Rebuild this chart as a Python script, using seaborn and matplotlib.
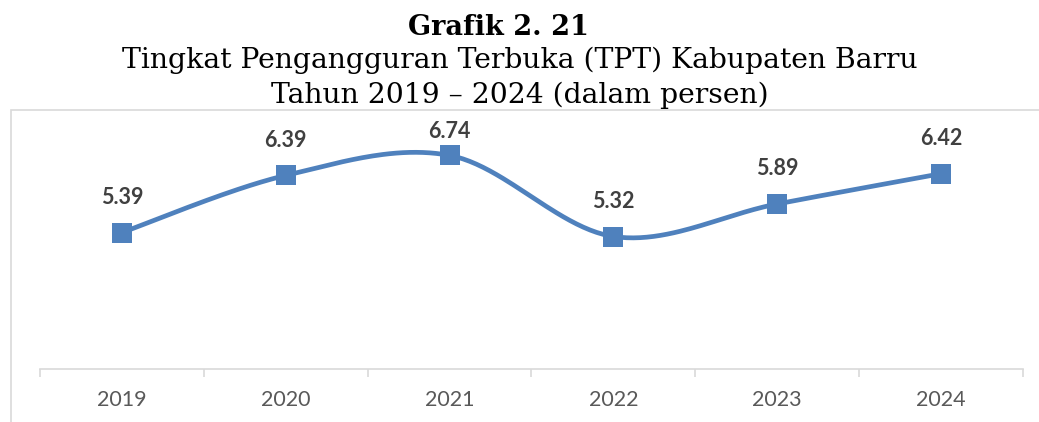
import numpy as np
import pandas as pd
import matplotlib
matplotlib.use("Agg")
import matplotlib.pyplot as plt
import seaborn as sns
from matplotlib.patches import Rectangle

years = ["2019", "2020", "2021", "2022", "2023", "2024"]
tpt = [5.39, 6.39, 6.74, 5.32, 5.89, 6.42]
value_labels = ["5.39", "6.39", "6.74", "5.32", "5.89", "6.42"]
title_lines = ["Grafik 2. 21",
               "Tingkat Pengangguran Terbuka (TPT) Kabupaten Barru",
               "Tahun 2019 \u2013 2024 (dalam persen)"]

sns.set_theme(style="white")
plt.rcParams['font.family'] = ['Lato', 'DejaVu Sans']

W, H = 1039, 422
fig = plt.figure(figsize=(W / 100, H / 100), dpi=100)
ax = fig.add_axes([40 / W, 53 / H, 983 / W, 257 / H])

x = np.arange(len(years))
df = pd.DataFrame({"x": x, "year": years, "tpt": tpt})


def smooth_curve(xs, ys, n=50):
    P = np.column_stack([xs, ys]).astype(float)
    P = np.vstack([P[0], P, P[-1]])
    out = []
    for i in range(1, len(P) - 2):
        p0, p1, p2, p3 = P[i - 1], P[i], P[i + 1], P[i + 2]
        c1 = p1 + (p2 - p0) / 6
        c2 = p2 - (p3 - p1) / 6
        t = np.linspace(0, 1, n)[:, None]
        seg = (1 - t) ** 3 * p1 + 3 * (1 - t) ** 2 * t * c1 + 3 * (1 - t) * t ** 2 * c2 + t ** 3 * p2
        out.append(seg if i == 1 else seg[1:])
    return np.vstack(out)


curve = smooth_curve(df["x"], df["tpt"])
cdf = pd.DataFrame({"x": curve[:, 0], "y": curve[:, 1]})
blue = "#4F81BD"
sns.lineplot(data=cdf, x="x", y="y", sort=False, estimator=None, color=blue,
             linewidth=3.4, ax=ax, zorder=2)
sns.scatterplot(data=df, x="x", y="tpt", marker="s", s=225, color=blue,
                edgecolor=blue, linewidth=0, ax=ax, zorder=3)

ax.set_xlim(-0.5, len(years) - 0.5)
ax.set_ylim(3, 7.5)

# data labels: 35 px above the marker, but kept inside the chart area
top_limit = H - 132  # highest allowed label centre (display px from bottom)
for xi, yi, lab in zip(df["x"], df["tpt"], value_labels):
    _, py = ax.transData.transform((xi, yi))
    dy = min(35, top_limit - py)
    ax.annotate(lab, (xi, yi), xytext=(0, dy * 0.72), textcoords="offset points",
                ha="center", va="center", fontsize=15.5, fontweight="bold",
                color="#404040")

ax.set_xticks(x)
ax.set_xticklabels(years)
ax.set_xticks(np.arange(-0.5, len(years), 1.0), minor=True)
ax.set_yticks([])
ax.set_xlabel("")
ax.set_ylabel("")
for s in ["top", "left", "right"]:
    ax.spines[s].set_visible(False)
ax.spines["bottom"].set_color("#D9D9D9")
ax.spines["bottom"].set_linewidth(1.2)
ax.tick_params(axis="x", which="major", length=0, pad=15, labelsize=15.5,
               labelcolor="#595959")
ax.tick_params(axis="x", which="minor", length=6, width=1.2, color="#D9D9D9",
               direction="out", bottom=True)
ax.patch.set_alpha(0)

# chart frame
fig.add_artist(Rectangle((11 / W, -0.1), 1.2, (H - 110) / H + 0.1,
                         transform=fig.transFigure, fill=False,
                         edgecolor="#D9D9D9", linewidth=1.2))

serif = ['DejaVu Serif']
fig.text(499 / W, 1 - 35 / H, title_lines[0], ha="center", va="baseline",
         fontsize=19.5, fontweight="bold", family=serif, color="black")
fig.text(0.5, 1 - 68 / H, title_lines[1], ha="center", va="baseline",
         fontsize=20.3, family=serif, color="black")
fig.text(0.5, 1 - 103 / H, title_lines[2], ha="center", va="baseline",
         fontsize=20.3, family=serif, color="black")

fig.savefig("out.png", dpi=100)
